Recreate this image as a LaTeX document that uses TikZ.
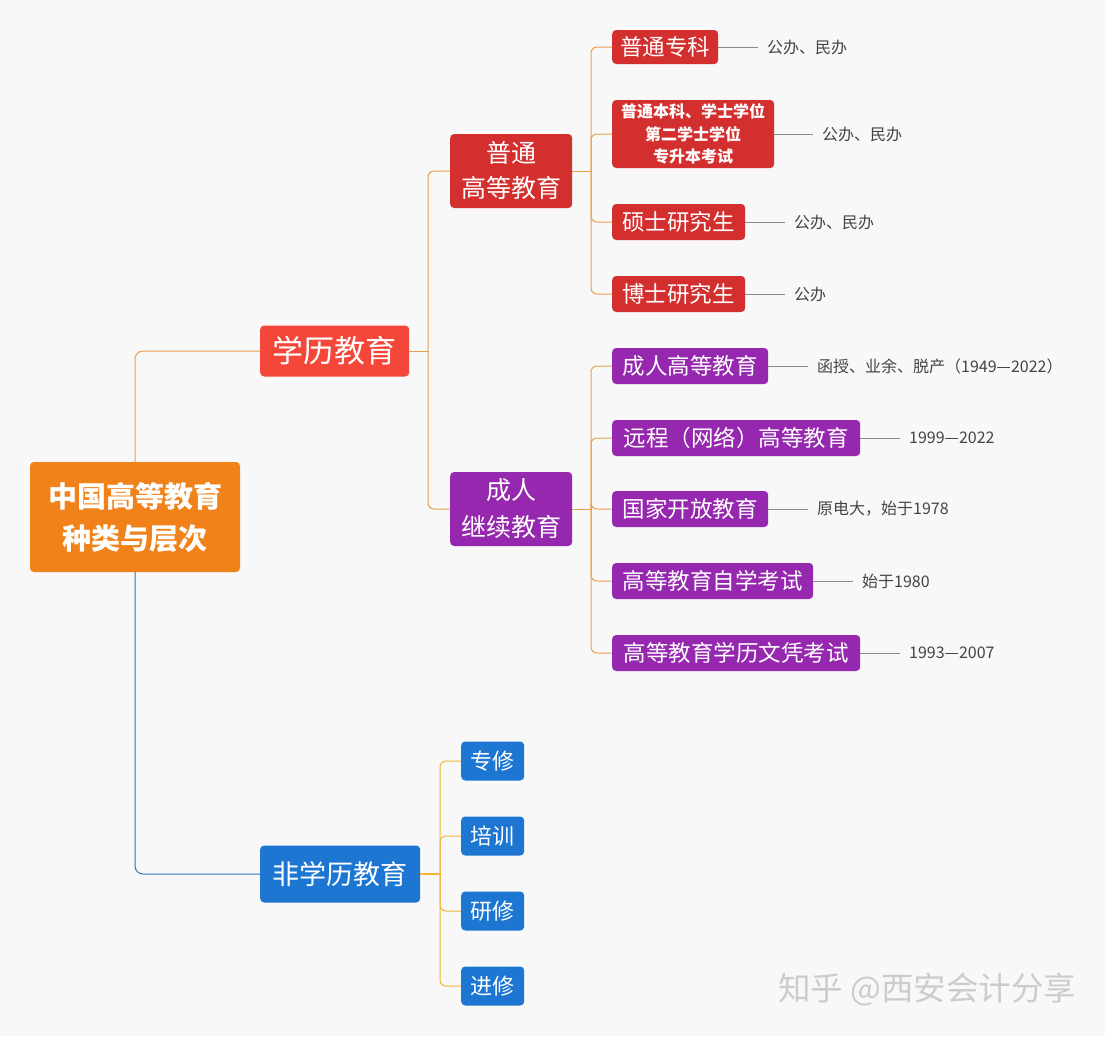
\documentclass[tikz,border=0pt]{standalone}
\usepackage{fontspec}
\setmainfont{Noto Sans CJK SC}
\definecolor{bgc}{HTML}{F8F8F8}
\definecolor{cRoot}{HTML}{F08219}
\definecolor{cXL}{HTML}{F4473A}
\definecolor{cRed}{HTML}{D32F2F}
\definecolor{cPur}{HTML}{9628AF}
\definecolor{cBlue}{HTML}{1C76D2}
\definecolor{lOr}{HTML}{E9A04F}
\definecolor{lBl}{HTML}{2E74BC}
\definecolor{lYe}{HTML}{F2B535}
\definecolor{lGr}{HTML}{8C8C8C}
\definecolor{tGr}{HTML}{444444}
\definecolor{wm}{HTML}{CCCCCC}
\tikzset{
  box/.style={rounded corners=4pt, text=white, inner sep=0pt, align=center, anchor=west},
  redbox/.style={box, fill=cRed, minimum height=36pt, font=\fontsize{22.5}{27}\selectfont},
  purbox/.style={box, fill=cPur, minimum height=36pt, font=\fontsize{22.5}{27}\selectfont},
  bluebox/.style={box, fill=cBlue, minimum height=39pt, minimum width=63pt, font=\fontsize{22}{26}\selectfont},
  lbl/.style={anchor=west, inner sep=0pt, text=tGr, font=\fontsize{16}{19}\selectfont},
  oline/.style={draw=lOr, line width=1pt},
  gline/.style={draw=lGr, line width=0.8pt},
}
\begin{document}
\begin{tikzpicture}[x=1pt,y=-1pt]
\fill[bgc] (0,0) rectangle (1105,1036);
\useasboundingbox (0,0) rectangle (1105,1036);

% main nodes
\node[box, fill=cRoot, anchor=center, minimum width=210pt, minimum height=110pt,
      font=\bfseries\fontsize{29}{42}\selectfont] (root) at (135,517) {中国高等教育\\种类与层次};
\node[box, fill=cXL, minimum width=149pt, minimum height=51pt,
      font=\fontsize{31}{36}\selectfont] (xl) at (260,351) {学历教育};
\node[box, fill=cBlue, minimum width=160pt, minimum height=57pt,
      font=\fontsize{27}{32}\selectfont] (fxl) at (260,874) {非学历教育};
\node[box, fill=cRed, minimum width=122pt, minimum height=74pt,
      font=\fontsize{25}{35}\selectfont] (pt) at (450,171) {普通\\高等教育};
\node[box, fill=cPur, minimum width=122pt, minimum height=74pt,
      font=\fontsize{25}{37}\selectfont] (cr) at (450,509) {成人\\继续教育};

% red children
\node[redbox, minimum width=106pt, minimum height=34pt] (r1) at (612,47) {普通专科};
\node[box, fill=cRed, minimum width=162pt, minimum height=68pt,
      font=\bfseries\fontsize{16}{22.5}\selectfont] (r2) at (612,134) {普通本科、学士学位\\第二学士学位\\专升本考试};
\node[redbox, minimum width=133pt] (r3) at (612,222) {硕士研究生};
\node[redbox, minimum width=133pt] (r4) at (612,294) {博士研究生};

% purple children
\node[purbox, minimum width=156pt] (p1) at (612,366) {成人高等教育};
\node[purbox, minimum width=248pt] (p2) at (612,438) {远程（网络）高等教育};
\node[purbox, minimum width=156pt] (p3) at (612,509) {国家开放教育};
\node[purbox, minimum width=201pt] (p4) at (612,581) {高等教育自学考试};
\node[purbox, minimum width=248pt] (p5) at (612,653) {高等教育学历文凭考试};

% blue children
\node[bluebox] (b1) at (461,761) {专修};
\node[bluebox] (b2) at (461,836) {培训};
\node[bluebox] (b3) at (461,911) {研修};
\node[bluebox] (b4) at (461,986) {进修};

% labels
\node[lbl] (l1) at (767,47) {公办、民办};
\node[lbl] (l2) at (822,134) {公办、民办};
\node[lbl] (l3) at (794,222) {公办、民办};
\node[lbl] (l4) at (794,294) {公办};
\node[lbl] (l5) at (817,366) {函授、业余、脱产（1949—2022）};
\node[lbl] (l6) at (909,438) {1999—2022};
\node[lbl] (l7) at (817,509) {原电大，始于1978};
\node[lbl] (l8) at (862,581) {始于1980};
\node[lbl] (l9) at (909,653) {1993—2007};

% watermark
\node[anchor=west, inner sep=0pt, text=wm, font=\fontsize{32.5}{37}\selectfont] (wmk) at (778,990) {知乎 @西安会计分享};

% junction coordinates
\coordinate (j1) at (428,351);
\coordinate (j2) at (591,171);
\coordinate (j3) at (591,509);
\coordinate (j4) at (440,874);

% root connectors
\draw[oline, rounded corners=8pt] (root.north) |- (xl.west);
\draw[draw=lBl, line width=1pt, rounded corners=8pt] (root.south) |- (fxl.west);

% level 2
\draw[oline] (xl.east) -- (j1);
\draw[oline, rounded corners=6pt] (j1) |- (pt.west);
\draw[oline, rounded corners=6pt] (j1) |- (cr.west);

% level 3 red
\draw[oline] (pt.east) -- (j2);
\foreach \n in {r1,r2,r3,r4} \draw[oline, rounded corners=6pt] (j2) |- (\n.west);
% level 3 purple
\draw[oline] (cr.east) -- (j3);
\foreach \n in {p1,p2,p3,p4,p5} \draw[oline, rounded corners=6pt] (j3) |- (\n.west);
% blue children
\draw[draw=lYe, line width=1.6pt] (fxl.east) -- (j4);
\foreach \n in {b1,b2,b3,b4} \draw[draw=lYe, line width=1pt, rounded corners=6pt] (j4) |- (\n.west);

% label lines
\foreach \a/\b in {r1/l1,r2/l2,r3/l3,r4/l4,p1/l5,p2/l6,p3/l7,p4/l8,p5/l9}
  \draw[gline] (\a.east) -- ([xshift=-9pt]\b.west);
\end{tikzpicture}
\end{document}
